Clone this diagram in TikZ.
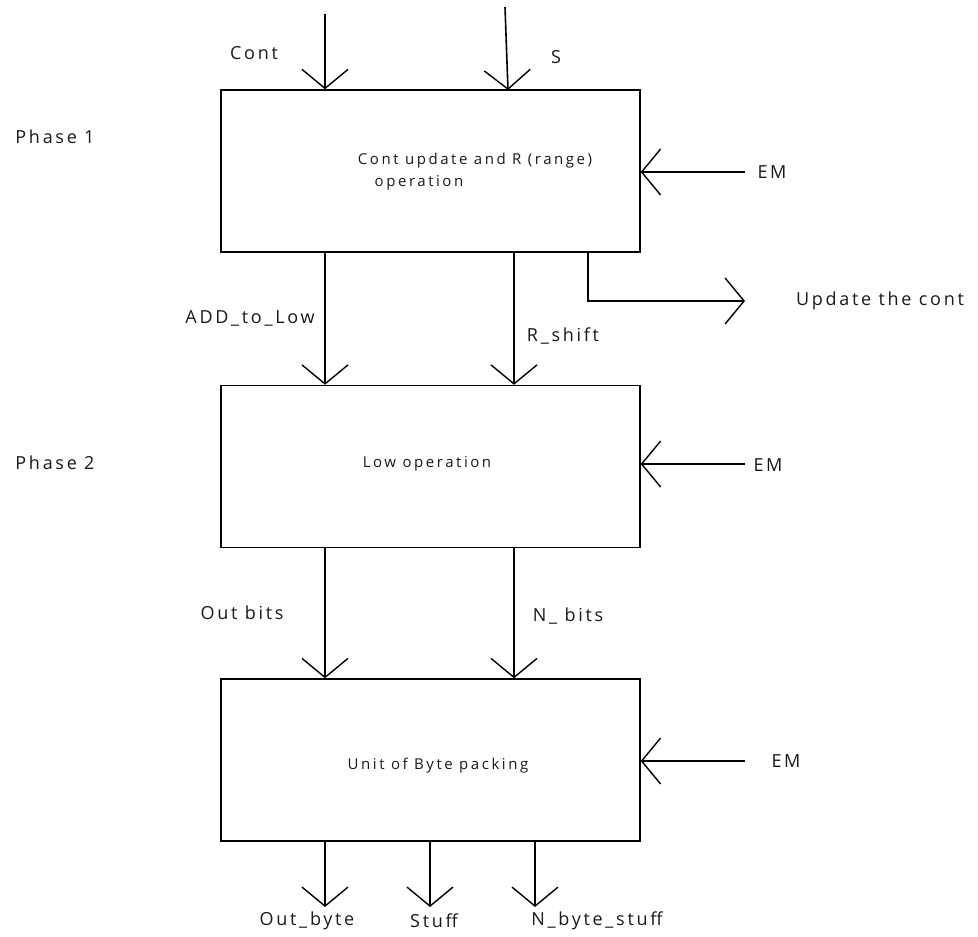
\documentclass[tikz,border=0pt]{standalone}
\usepackage{fontspec}
\setmainfont{Open Sans}
\newfontfamily\spfont[LetterSpace=15]{Open Sans}
\newfontfamily\spbfont[LetterSpace=17]{Open Sans}
\usetikzlibrary{arrows.meta}
\begin{document}
\begin{tikzpicture}[x=1pt,y=-1pt,
  blk/.style={draw,line width=1.4pt,minimum width=419pt,minimum height=162pt,inner sep=0pt},
  arr/.style={line width=1.6pt,-{Straight Barb[length=19pt,width=46pt,line width=1.4pt]}},
  lbl/.style={font=\spfont\fontsize{18}{21}\selectfont,inner sep=0pt,text=black!90},
  btxt/.style={font=\spbfont\fontsize{15}{18}\selectfont,inner sep=0pt,text=black!90}]
\useasboundingbox (0,0) rectangle (978,937);
\node[blk] (b1) at (430.5,171) {};
\node[blk] (b2) at (430.5,466.5) {};
\node[blk] (b3) at (430.5,760) {};
% box texts
\node[btxt] (t1a) at (475,161) {Cont update and R (range)};
\node[btxt] (t1b) at (419,183) {operation};
\node[btxt] (t2) at (427,464) {Low operation};
\node[btxt] (t3) at (438,766) {Unit of Byte packing};
% phase labels
\node[lbl] (p1) at (55,137) {Phase 1};
\node[lbl] (p2) at (55,463) {Phase 2};
% top inputs
\coordinate (cin) at (325,14);
\coordinate (sin) at (505,7);
\draw[arr] (cin) -- (cin |- b1.north);
\draw[arr] (sin) -- (508,90);
\node[lbl] (lc) at (254,53) {Cont};
\node[lbl] (ls) at (556,57) {S};
% EM inputs
\coordinate (em1) at (745,172);
\coordinate (em2) at (745,464);
\coordinate (em3) at (745,761);
\draw[arr] (em1) -- (em1 -| b1.east);
\draw[arr] (em2) -- (em2 -| b2.east);
\draw[arr] (em3) -- (em3 -| b3.east);
\node[lbl] (le1) at (772,172) {EM};
\node[lbl] (le2) at (768,465) {EM};
\node[lbl] (le3) at (786,761) {EM};
% box1 -> box2
\coordinate (x1) at (325,0);
\coordinate (x2) at (514,0);
\draw[arr] (x1 |- b1.south) -- (x1 |- b2.north);
\draw[arr] (x2 |- b1.south) -- (x2 |- b2.north);
\node[lbl] (ladd) at (250,318) {ADD\_to\_Low};
\node[lbl] (lrs) at (563,336) {R\_shift};
% update the cont
\coordinate (ux) at (588,0);
\coordinate (ub) at (588,301);
\coordinate (ue) at (745,301);
\draw[arr] (ux |- b1.south) -- (ub) -- (ue);
\node[lbl] (lu) at (880,301) {Update the cont};
% box2 -> box3
\draw[arr] (x1 |- b2.south) -- (x1 |- b3.north);
\draw[arr] (x2 |- b2.south) -- (x2 |- b3.north);
\node[lbl] (lob) at (242,613) {Out bits};
\node[lbl] (lnb) at (568,616) {N\_ bits};
% outputs
\coordinate (o1) at (325,907);
\coordinate (o2) at (430,907);
\coordinate (o3) at (535,907);
\draw[arr] (o1 |- b3.south) -- (o1);
\draw[arr] (o2 |- b3.south) -- (o2);
\draw[arr] (o3 |- b3.south) -- (o3);
\node[lbl] (lo1) at (307,921) {Out\_byte};
\node[lbl] (lo2) at (434,921) {Stuff};
\node[lbl] (lo3) at (597,921) {N\_byte\_stuff};
\end{tikzpicture}
\end{document}
